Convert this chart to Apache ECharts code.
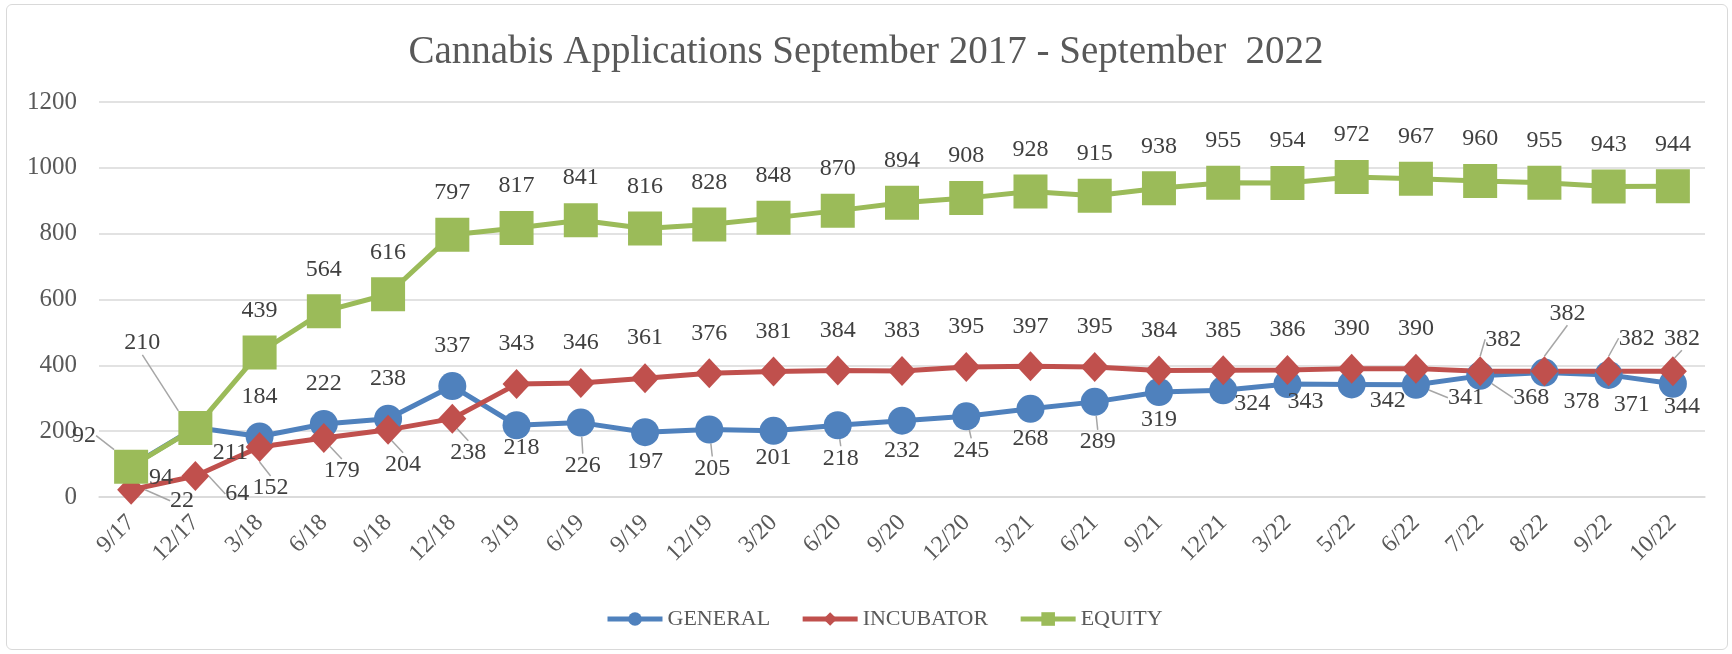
<!DOCTYPE html>
<html>
<head>
<meta charset="utf-8">
<script src="https://cdn.jsdelivr.net/npm/echarts@6/dist/echarts.min.js"></script>
<style>
  html, body { margin: 0; padding: 0; background: #fff; }
  #main { width: 1732px; height: 654px; }
  #frame {
    position: absolute; left: 6px; top: 4px; width: 1720px; height: 644px;
    border: 1.5px solid #d9d9d9; border-radius: 6px; pointer-events: none;
  }
</style>
</head>
<body>
<div id="main"></div>
<div id="frame"></div>
<script>
var categories = ['9/17', '12/17', '3/18', '6/18', '9/18', '12/18', '3/19', '6/19', '9/19', '12/19',
  '3/20', '6/20', '9/20', '12/20', '3/21', '6/21', '9/21', '12/21', '3/22', '5/22',
  '6/22', '7/22', '8/22', '9/22', '10/22'];
var general = [94, 211, 184, 222, 238, 337, 218, 226, 197, 205, 201, 218, 232, 245, 268, 289,
  319, 324, 343, 342, 341, 368, 378, 371, 344];
var incubator = [22, 64, 152, 179, 204, 238, 343, 346, 361, 376, 381, 384, 383, 395, 397, 395,
  384, 385, 386, 390, 390, 382, 382, 382, 382];
var equity = [92, 210, 439, 564, 616, 797, 817, 841, 816, 828, 848, 870, 894, 908, 928, 915,
  938, 955, 954, 972, 967, 960, 955, 943, 944];

// label offsets from the point centre (px), like the excel data labels
var generalOff = [[30, 12], [35, 25], [0, -40], [0, -40], [0, -40], [0, -40], [5, 22], [2, 43],
  [0, 30], [3, 39], [0, 27], [3, 33], [0, 30], [5, 34], [0, 30], [3, 40], [0, 28], [29, 13],
  [18, 18], [36, 16], [50, 13], [51, 22], [37, 29], [23, 30], [9, 23]];
var incubatorOff = [[51, 11], [42, 18], [11, 41], [18, 33], [15, 35], [16, 34]];
for (var k = 6; k <= 20; k++) incubatorOff.push([0, -40]);
incubatorOff.push([23, -32], [23, -58], [28, -33], [9, -33]);
var equityOff = [[-47, -31], [-53, -85]];
for (var k = 2; k < 25; k++) equityOff.push([0, -42]);
var offsets = [generalOff, incubatorOff, equityOff];

// points that get a grey leader line
var generalLeaders = [7, 9, 11, 13, 15, 20, 21];
var incubatorLeaders = [0, 1, 2, 3, 4, 5, 21, 22, 23, 24];
var equityLeaders = [0, 1];

var font = '"Liberation Serif", serif';

function buildData(values, leaders) {
  return values.map(function (v, i) {
    if (leaders.indexOf(i) >= 0) return { value: v, labelLine: { show: true } };
    return v;
  });
}

function makeSeries(name, values, leaders, color, symbol, size) {
  return {
    name: name,
    type: 'line',
    data: buildData(values, leaders),
    symbol: symbol,
    symbolSize: size,
    showSymbol: true,
    lineStyle: { color: color, width: 5 },
    itemStyle: { color: color },
    label: {
      show: true,
      position: 'inside',
      color: '#404040',
      fontFamily: font,
      fontSize: 24
    },
    labelLine: { show: false, lineStyle: { color: '#a6a6a6', width: 1.5 } },
    labelLayout: function (params) {
      var o = offsets[params.seriesIndex][params.dataIndex];
      return { dx: o[0], dy: o[1] };
    }
  };
}

var chart = echarts.init(document.getElementById('main'), null, { renderer: 'canvas' });

var option = {
  animation: false,
  title: {
    text: 'Cannabis Applications September 2017 - September  2022',
    left: 'center',
    top: 28,
    textStyle: { fontFamily: font, fontSize: 39, fontWeight: 'normal', color: '#595959' }
  },
  legend: {
    left: 600,
    top: 603,
    itemWidth: 55,
    itemHeight: 17,
    itemGap: 30,
    lineStyle: { width: 5 },
    textStyle: { fontFamily: font, fontSize: 22, color: '#595959' },
    data: ['GENERAL', 'INCUBATOR', 'EQUITY']
  },
  grid: { left: 99, right: 27, top: 102, bottom: 157, containLabel: false },
  xAxis: {
    type: 'category',
    data: categories,
    boundaryGap: true,
    axisLine: { lineStyle: { color: '#d9d9d9', width: 1.5 } },
    axisTick: { show: false },
    axisLabel: {
      rotate: 45,
      margin: 22,
      interval: 0,
      fontFamily: font,
      fontSize: 24,
      color: '#595959'
    }
  },
  yAxis: {
    type: 'value',
    min: 0,
    max: 1200,
    interval: 200,
    axisLine: { show: false },
    axisTick: { show: false },
    splitLine: { lineStyle: { color: '#d9d9d9', width: 1.5 } },
    axisLabel: {
      margin: 22,
      fontFamily: font,
      fontSize: 25,
      color: '#595959',
      formatter: function (v) { return String(v); }
    }
  },
  series: [
    makeSeries('GENERAL', general, generalLeaders, '#4f81bd', 'circle', 28),
    makeSeries('INCUBATOR', incubator, incubatorLeaders, '#c0504d', 'diamond', [28, 30]),
    makeSeries('EQUITY', equity, equityLeaders, '#9bbb59', 'rect', 34)
  ]
};

chart.setOption(option);
</script>
</body>
</html>
